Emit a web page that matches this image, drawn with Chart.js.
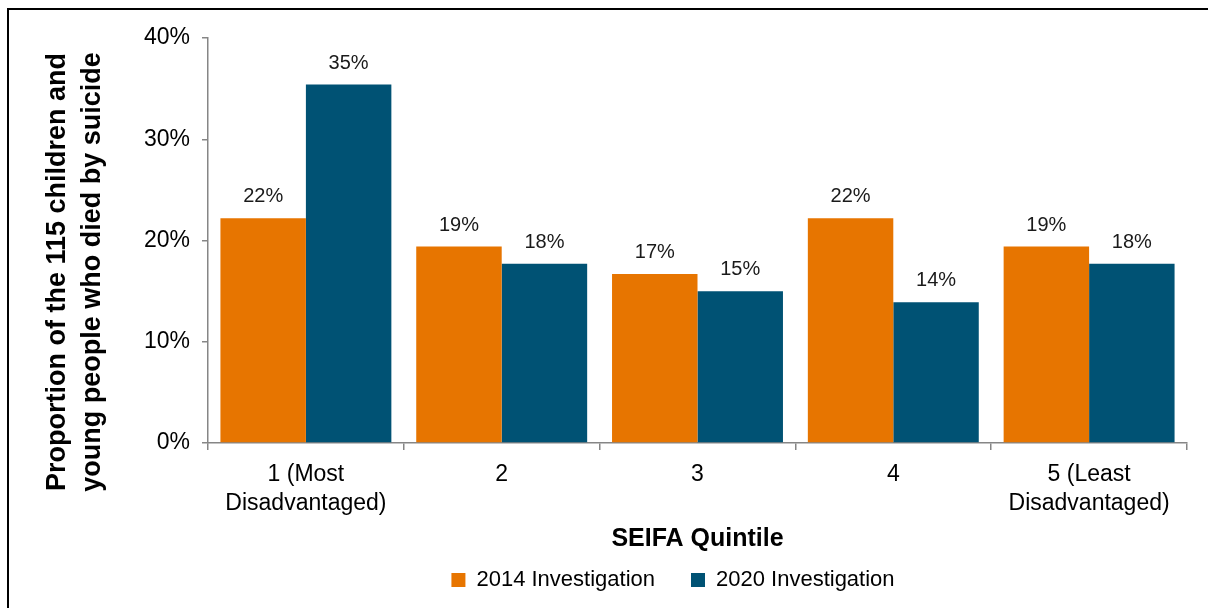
<!DOCTYPE html>
<html>
<head>
<meta charset="utf-8">
<script src="https://cdn.jsdelivr.net/npm/chart.js@4"></script>
<style>
  html, body { margin: 0; padding: 0; background: #fff; overflow: hidden; }
  #wrap { position: relative; width: 1208px; height: 608px; }
  #frame { position: absolute; left: 7px; top: 8px; width: 1300px; height: 700px;
           border-top: 2px solid #000; border-left: 2px solid #000; pointer-events: none; }
</style>
</head>
<body>
<div id="wrap">
  <canvas id="chart" width="1208" height="608"></canvas>
  <div id="frame"></div>
</div>
<script>
// Data
const categories = [['1 (Most', 'Disadvantaged)'], '2', '3', '4', ['5 (Least', 'Disadvantaged)']];
const inv2014 = [22.2, 19.4, 16.7, 22.2, 19.4];
const inv2020 = [35.4, 17.7, 15.0, 13.9, 17.7];
const yTicks = [0, 10, 20, 30, 40];
const yTitle = ['Proportion of the 115 children and', 'young people who died by suicide'];

const FONT = "'Liberation Sans', Arial, sans-serif";
const axisGrey = '#868686';

// value labels above each bar
const barLabels = {
    id: 'barLabels',
    afterDatasetsDraw(chart) {
        const ctx = chart.ctx;
        ctx.save();
        ctx.font = '20px ' + FONT;
        ctx.fillStyle = '#1a1a1a';
        ctx.textAlign = 'center';
        ctx.textBaseline = 'alphabetic';
        chart.data.datasets.forEach((ds, i) => {
            chart.getDatasetMeta(i).data.forEach((bar, j) => {
                ctx.fillText(Math.round(ds.data[j]) + '%', bar.x, bar.y - 16);
            });
        });
        ctx.restore();
    }
};

// y title sits a bit lower than the plot centre in the original, so draw it by hand
const sideTitle = {
    id: 'sideTitle',
    afterDraw(chart) {
        const ctx = chart.ctx;
        ctx.save();
        ctx.font = 'bold 27px ' + FONT;
        ctx.fillStyle = '#000';
        ctx.textAlign = 'center';
        ctx.textBaseline = 'alphabetic';
        const xs = [65, 100];
        yTitle.forEach((line, i) => {
            ctx.save();
            ctx.translate(xs[i], 272);
            ctx.rotate(-Math.PI / 2);
            ctx.fillText(line, 0, 0);
            ctx.restore();
        });
        ctx.restore();
    }
};

// nudge the legend to where the original has it
const legendSpot = {
    id: 'legendSpot',
    afterLayout(chart) {
        const lg = chart.legend;
        if (!lg) return;
        const dx = 673 - (lg.left + lg.right) / 2;
        const dy = 533 - lg.top;
        lg.left += dx; lg.right += dx;
        lg.top += dy; lg.bottom += dy;
    }
};

const ctx = document.getElementById('chart').getContext('2d');
new Chart(ctx, {
    type: 'bar',
    data: {
        labels: categories,
        datasets: [
            { label: '2014 Investigation', data: inv2014, backgroundColor: '#E77500' },
            { label: '2020 Investigation', data: inv2020, backgroundColor: '#005274' }
        ]
    },
    options: {
        responsive: false,
        animation: false,
        devicePixelRatio: 1,
        categoryPercentage: 0.873,
        barPercentage: 1.0,
        layout: { padding: { left: 40, right: 21, top: 38, bottom: -14 } },
        scales: {
            x: {
                grid: { display: true, drawOnChartArea: false, drawTicks: true, tickLength: 7, color: axisGrey, lineWidth: 1.5 },
                border: { display: true, color: axisGrey, width: 1.5 },
                ticks: { color: '#000', font: { family: FONT, size: 23, lineHeight: 1.26 }, padding: 10, maxRotation: 0, autoSkip: false },
                title: { display: true, text: 'SEIFA Quintile', color: '#000',
                         font: { family: FONT, size: 25, weight: 'bold', lineHeight: 1.2 }, padding: 0 },
                afterFit: (s) => { s.height = 111; }
            },
            y: {
                min: 0, max: 40,
                afterBuildTicks: (s) => { s.ticks = yTicks.map(v => ({ value: v })); },
                grid: { display: true, drawOnChartArea: false, drawTicks: true, tickLength: 6, color: axisGrey, lineWidth: 1.5 },
                border: { display: true, color: axisGrey, width: 1.5 },
                ticks: { color: '#000', font: { family: FONT, size: 23 }, padding: 12, callback: v => v + '%' },
                afterFit: (s) => { s.width = 168; }
            }
        },
        plugins: {
            legend: {
                position: 'bottom',
                labels: { color: '#000', font: { family: FONT, size: 22 }, boxWidth: 14, boxHeight: 14, padding: 36 }
            },
            tooltip: { enabled: false },
            title: { display: false }
        }
    },
    plugins: [barLabels, sideTitle, legendSpot]
});
</script>
</body>
</html>
